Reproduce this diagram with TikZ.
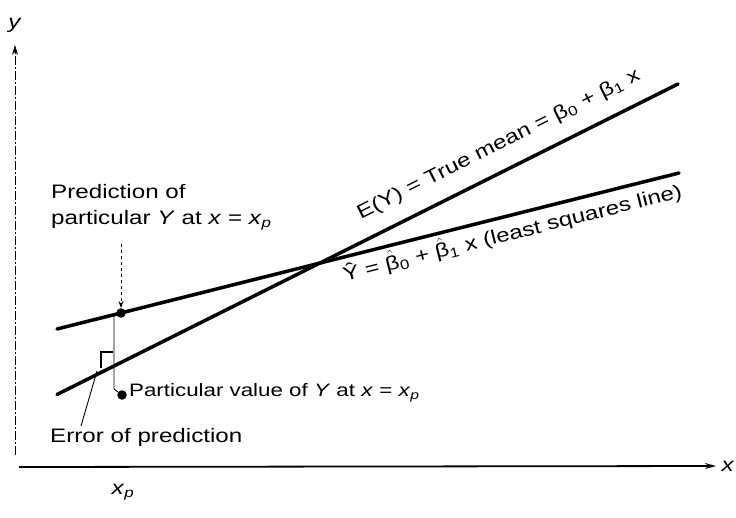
\documentclass[tikz,border=0pt]{standalone}
\usepackage{fontspec}
\setmainfont{Liberation Sans}[FakeStretch=1.24]
\usetikzlibrary{arrows.meta}
\newcommand{\bh}{$\hat{\mbox{β}}$}
\begin{document}
\begin{tikzpicture}[x=1pt,y=-1pt,
  txt/.style={font=\fontsize{19.5}{26}\selectfont, inner sep=0pt},
  thickline/.style={line width=3.5pt, line cap=round},
  thinline/.style={line width=0.9pt},
  axisline/.style={line width=1.8pt, -{Stealth[length=11pt,width=6pt]}},
  yaxisline/.style={line width=0.8pt, dash pattern=on 9pt off 2pt on 2pt off 2pt, -{Stealth[length=10pt,width=6pt]}},
  dot/.style={circle, fill, inner sep=0pt, minimum size=9.5pt},
]
\useasboundingbox (0,0) rectangle (736,517);
% axes
\coordinate (yb) at (15,455);
\coordinate (yt) at (15,45);
\draw[yaxisline] (yb) -- (yt);
\node[txt] (ylab) at (15,25) {\textit{y}};
\coordinate (xa) at (19,467);
\coordinate (xb) at (716,466);
\draw[axisline] (xa) -- (xb);
\node[txt] (xlab) at (728,466) {\textit{x}};
\node[txt] (xp) at (123,492) {\textit{x}\textsubscript{\textit{p}}};
% lines
\coordinate (tmA) at (57,394.5);
\coordinate (tmB) at (678,84);
\coordinate (lsA) at (57,329);
\coordinate (lsB) at (679,173);
\draw[thickline] (tmA) -- (tmB)
  node[txt, pos=0.73, sloped, above, yshift=15pt] (tmlab) {E(Y) = True mean = β\textsubscript{0} + β\textsubscript{1} x};
\draw[thickline] (lsA) -- (lsB)
  node[txt, pos=0.725, sloped, below, yshift=-3pt] (lslab) {Ŷ = \bh\textsubscript{0} + \bh\textsubscript{1} x (least squares line)};
% dots and connectors
\node[dot] (pred) at (121,313) {};
\node[dot] (part) at (122,395) {};
\coordinate (v1) at (114,313);
\coordinate (v2) at (114,389);
\draw[thinline] (v1) -- (v2) -- (part);
\node[txt, align=left, anchor=north west] (predlab) at (51,184)
  {Prediction of\\particular \textit{Y} at \textit{x} = \textit{x}\textsubscript{\textit{p}}};
\coordinate (dtop) at (121,244);
\draw[thinline, dashed, -{Stealth[length=7pt,width=5pt]}] (dtop) -- (pred.north);
\node[txt, anchor=west, font=\fontsize{18}{24}\selectfont] (partlab) at (129,393)
  {Particular value of \textit{Y} at \textit{x} = \textit{x}\textsubscript{\textit{p}}};
\node[txt, anchor=west] (errlab) at (50,437) {Error of prediction};
\coordinate (errtip) at (97,371);
\coordinate (errfoot) at (81,426);
\draw[thinline] (errfoot) -- (errtip);
\coordinate (b1) at (113,352);
\coordinate (b2) at (101,352);
\coordinate (b3) at (101,368);
\draw[line width=1.8pt] (b1) -- (b2) -- (b3);
\end{tikzpicture}
\end{document}
